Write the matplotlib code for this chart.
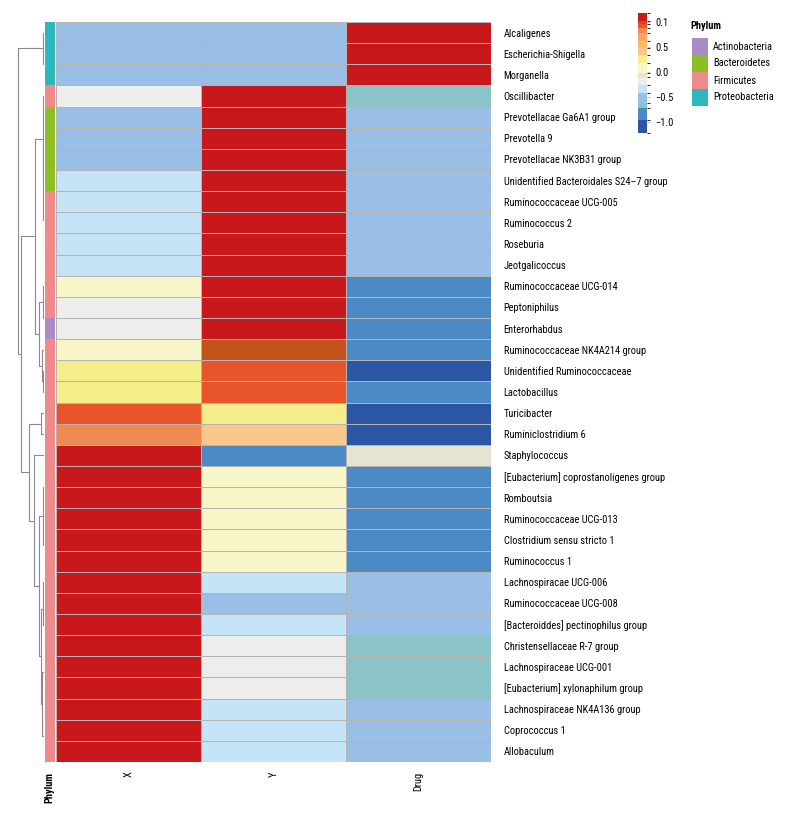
import numpy as np
import matplotlib
matplotlib.use('Agg')
from matplotlib import pyplot as plt
from matplotlib import colors as mcolors
from matplotlib import font_manager as fm

# the reference uses a condensed face; take one if the box has it
names = {f.name for f in fm.fontManager.ttflist}
narrow = [nm for nm in ['Liberation Sans Narrow', 'Roboto Condensed', 'Noto Sans Condensed',
                        'Open Sans Condensed', 'DejaVu Sans Condensed', 'Arial Narrow']
          if nm in names]
cond = sorted({f.name for f in fm.fontManager.ttflist
               if f.stretch in ('condensed', 'semi-condensed', 'extra-condensed')})
if narrow:
    plt.rcParams['font.family'] = [narrow[0], 'DejaVu Sans']
    fs = 7.5
elif cond:
    plt.rcParams['font.family'] = [cond[0], 'DejaVu Sans']
    plt.rcParams['font.stretch'] = 'condensed'
    fs = 7.5
else:
    plt.rcParams['font.family'] = ['Liberation Sans', 'DejaVu Sans']
    fs = 6.6

# rows, top to bottom (dendrogram leaf order)
genus = ['Alcaligenes', 'Escherichia-Shigella', 'Morganella', 'Oscillibacter',
         'Prevotellacae Ga6A1 group', 'Prevotella 9', 'Prevotellacae NK3B31 group',
         'Unidentified Bacteroidales S24\u20137 group', 'Ruminococcaceae UCG-005',
         'Ruminococcus 2', 'Roseburia', 'Jeotgalicoccus', 'Ruminococcaceae UCG-014',
         'Peptoniphilus', 'Enterorhabdus', 'Ruminococcaceae NK4A214 group',
         'Unidentified Ruminococcaceae', 'Lactobacillus', 'Turicibacter',
         'Ruminiclostridium 6', 'Staphylococcus', '[Eubacterium] coprostanoligenes group',
         'Romboutsia', 'Ruminococcaceae UCG-013', 'Clostridium sensu stricto 1',
         'Ruminococcus 1', 'Lachnospiracae UCG-006', 'Ruminococcaceae UCG-008',
         '[Bacteroiddes] pectinophilus group', 'Christensellaceae R-7 group',
         'Lachnospiraceae UCG-001', '[Eubacterium] xylonaphilum group',
         'Lachnospiraceae NK4A136 group', 'Coprococcus 1', 'Allobaculum']

x_vals = [-0.5, -0.5, -0.5, -0.18, -0.5, -0.5, -0.5, -0.33, -0.33, -0.33, -0.33, -0.33,
          0.08, -0.18, -0.18, 0.08, 0.26, 0.26, 0.92, 0.83, 1.1, 1.1, 1.1, 1.1, 1.1,
          1.1, 1.1, 1.1, 1.1, 1.1, 1.1, 1.1, 1.1, 1.1, 1.1]
y_vals = [-0.5, -0.5, -0.5, 1.1, 1.1, 1.1, 1.1, 1.1, 1.1, 1.1, 1.1, 1.1,
          1.1, 1.1, 1.1, 1.0, 0.92, 0.92, 0.26, 0.41, -0.85, 0.08, 0.08, 0.08, 0.08,
          0.08, -0.33, -0.5, -0.33, -0.18, -0.18, -0.18, -0.33, -0.33, -0.33]
drug_vals = [1.1, 1.1, 1.1, -0.67, -0.5, -0.5, -0.5, -0.5, -0.5, -0.5, -0.5, -0.5,
             -0.85, -0.85, -0.85, -0.85, -1.1, -0.85, -1.1, -1.1, -0.06, -0.85, -0.85,
             -0.85, -0.85, -0.85, -0.5, -0.5, -0.5, -0.67, -0.67, -0.67, -0.5, -0.5, -0.5]
col_labels = ['X', 'Y', 'Drug']

phylum = ['Proteobacteria'] * 3 + ['Firmicutes'] + ['Bacteroidetes'] * 4 + \
         ['Firmicutes'] * 6 + ['Actinobacteria'] + ['Firmicutes'] * 20
phylum_names = ['Actinobacteria', 'Bacteroidetes', 'Firmicutes', 'Proteobacteria']
phylum_colors = ['#A98BC4', '#8BBF25', '#F08A8A', '#2DB8BC']

# colour scale (stepped, like the reference key)
bounds = [-1.22, -0.96, -0.72, -0.62, -0.42, -0.26, -0.1, -0.02, 0.18, 0.34, 0.48,
          0.62, 0.78, 0.88, 0.96, 1.03, 1.19]
scale_colors = ['#2A56A4', '#4C8AC6', '#8AC4C6', '#99BFE6', '#C6E4F8', '#EDEDEB',
                '#E5E4D1', '#F8F6C9', '#F4EE8A', '#F9C68C', '#FDBE5E', '#F4A468',
                '#EF8A52', '#E9552B', '#C5511A', '#C8181C']
cb_ticks = [1.0, 0.5, 0.0, -0.5, -1.0]
cb_ticklabels = ['0.1', '0.5', '0.0', '\u22120.5', '\u22121.0']

# row dendrogram: merges (left node, right node, height); leaves are 0..34
link_left = [1, 0, 4, 37, 7, 9, 40, 39, 38, 3, 13, 12, 16, 15, 46, 44,
             18, 21, 23, 53, 52, 26, 56, 29, 58, 32, 60, 59, 57, 55, 20, 51, 50, 36]
link_right = [2, 35, 5, 6, 8, 10, 11, 41, 42, 43, 14, 45, 17, 47, 48, 49,
              19, 22, 24, 25, 54, 27, 28, 30, 31, 33, 34, 61, 62, 63, 64, 65, 66, 67]
link_height = [0.3, 0.6, 0.2, 0.3, 0.2, 0.2, 0.3, 0.4, 1.0, 1.5, 0.2, 1.0, 1.2, 2.0,
               4.7, 9.0, 3.0, 0.2, 0.2, 0.4, 0.8, 1.0, 1.3, 0.2, 0.4, 0.2, 0.4, 2.0,
               3.0, 5.3, 10.0, 15.5, 23.5, 26.0]

W, H = 792, 816
n = len(genus)


def px_rect(x0, y0, x1, y1):
    return [x0 / W, 1 - y1 / H, (x1 - x0) / W, (y1 - y0) / H]


fig = plt.figure(figsize=(W / 100, H / 100), dpi=100)

# heatmap
ax = fig.add_axes(px_rect(56, 22, 491, 762))
cmap = mcolors.ListedColormap(scale_colors)
norm = mcolors.BoundaryNorm(bounds, cmap.N)
data = np.column_stack([x_vals, y_vals, drug_vals])
mesh = ax.pcolormesh(data, cmap=cmap, norm=norm, edgecolors='#B4B4B4', linewidth=0.7)
ax.set_xlim(0, 3)
ax.set_ylim(n, 0)
ax.set_xticks(np.arange(3) + 0.5)
ax.set_xticklabels(col_labels, rotation=90, fontsize=fs)
ax.set_yticks(np.arange(n) + 0.5)
ax.set_yticklabels(genus, fontsize=fs)
ax.yaxis.tick_right()
ax.tick_params(length=0, pad=9)
ax.tick_params(axis='x', pad=7)
for s in ax.spines.values():
    s.set_visible(False)

# phylum annotation column
ax_an = fig.add_axes(px_rect(45, 22, 54.5, 762))
an_idx = np.array([phylum_names.index(p) for p in phylum])[:, None]
ax_an.pcolormesh(an_idx, cmap=mcolors.ListedColormap(phylum_colors),
                 vmin=-0.5, vmax=len(phylum_names) - 0.5)
ax_an.set_ylim(n, 0)
ax_an.set_xlim(0, 1)
ax_an.set_yticks([])
ax_an.set_xticks([0.5])
ax_an.set_xticklabels(['Phylum'], rotation=90, fontsize=fs, fontweight='bold')
ax_an.tick_params(length=0, pad=7)
for s in ax_an.spines.values():
    s.set_visible(False)

# dendrogram
ax_d = fig.add_axes(px_rect(0, 22, 44, 762))
pos = [i + 0.5 for i in range(n)]
hts = [0.0] * n
for l, r, h in zip(link_left, link_right, link_height):
    ax_d.plot([hts[l], h, h, hts[r]], [pos[l], pos[l], pos[r], pos[r]],
              color='#8A8A8A', lw=0.8, solid_capstyle='butt')
    pos.append((pos[l] + pos[r]) / 2)
    hts.append(h)
ax_d.set_xlim(44, 0)
ax_d.set_ylim(n, 0)
ax_d.axis('off')

# colour key
cax = fig.add_axes(px_rect(638, 12.7, 647, 133))
cb = fig.colorbar(mesh, cax=cax, ticks=cb_ticks, spacing='proportional')
cb.outline.set_visible(False)
cb.ax.set_yticklabels(cb_ticklabels)
cb.ax.tick_params(labelsize=fs, length=2, width=0.5, color='#AAAAAA', pad=4)

# phylum legend
ax_l = fig.add_axes(px_rect(692, 38, 792, 106))
ax_l.barh(np.arange(len(phylum_names)), 1, height=1, left=0, color=phylum_colors)
for i, name in enumerate(phylum_names):
    ax_l.text(1.3, i, name, va='center', ha='left', fontsize=fs)
ax_l.set_xlim(0, 100 / 16)
ax_l.set_ylim(len(phylum_names) - 0.5, -0.5)
ax_l.axis('off')
fig.text(690 / W, 1 - 26 / H, 'Phylum', fontsize=fs, fontweight='bold',
         ha='left', va='center')

fig.savefig('out.png', dpi=100, facecolor='white')
